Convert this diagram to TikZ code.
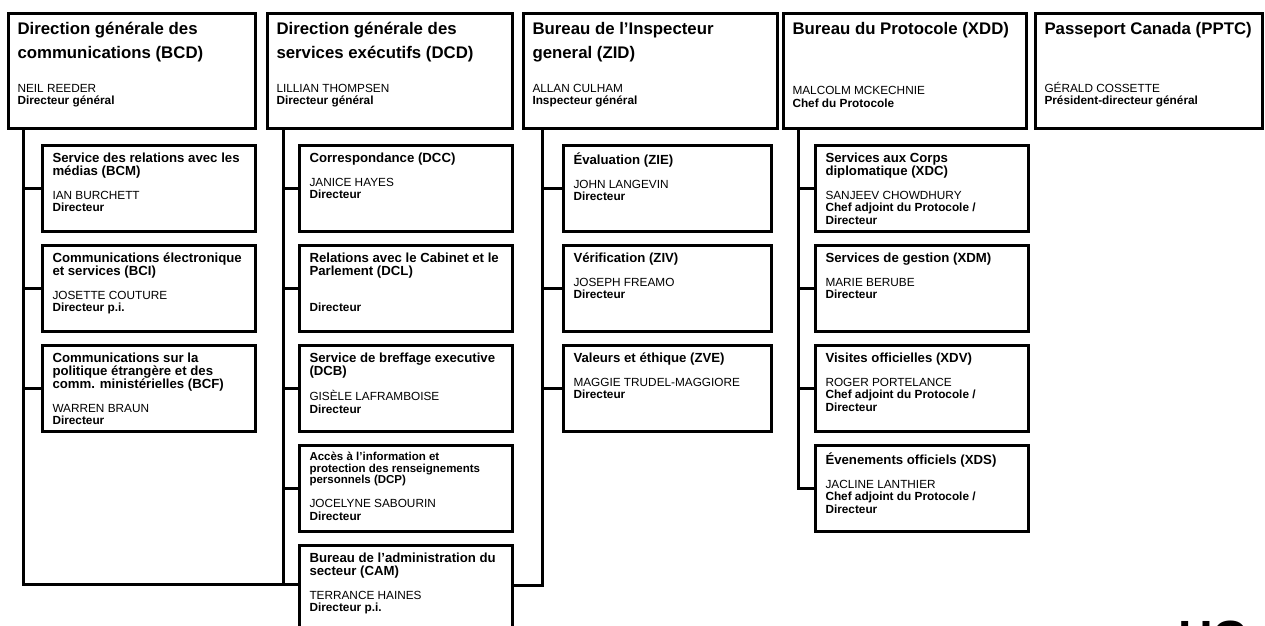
\documentclass[tikz,border=0pt]{standalone}
\usepackage{fontspec}
\setmainfont{Liberation Sans}
\usetikzlibrary{positioning}
\tikzset{
    orgchart/.style={x=1bp, y=-1bp, line width=3bp, node distance=11bp},
    dept/.style={draw, line width=3bp, anchor=north west, inner xsep=9bp, inner ysep=0pt},
    sect/.style={draw, line width=3bp, inner xsep=10bp, inner ysep=0pt},
}
% heading box: text width, title, name, role
\newcommand{\depttext}[4]{\parbox[c][115bp][s]{#1}{\raggedright
  \vspace*{9bp}\fontsize{16.8bp}{23.5bp}\selectfont\bfseries #2\par\vfill
  \fontsize{11.8bp}{12.5bp}\selectfont\leavevmode{\mdseries #3}\\ #4\par\vspace*{21bp}}}
% unit box: [title size] text width, title, name, role
\newcommand{\secttext}[5][13.2bp]{\parbox[c][86bp][t]{#2}{\raggedright
  \vspace*{7bp}\fontsize{#1}{#1}\selectfont\bfseries #3\par\vspace{11.5bp}
  \fontsize{11.8bp}{12.5bp}\selectfont\leavevmode{\mdseries #4}\\ #5\par}}

\begin{document}
\begin{tikzpicture}[orgchart]
    \useasboundingbox (0,0) rectangle (1265,626);

    % directions
    \node[dept] (bcd)  at (7,12)    {\depttext{229bp}{Direction générale des\\communications (BCD)}{NEIL REEDER}{Directeur général}};
    \node[dept] (dcd)  at (266,12)  {\depttext{227bp}{Direction générale des\\services exécutifs (DCD)}{LILLIAN THOMPSEN}{Directeur général}};
    \node[dept] (zid)  at (522,12)  {\depttext{236bp}{Bureau de l'Inspecteur\\general (ZID)}{ALLAN CULHAM}{Inspecteur général}};
    \node[dept] (xdd)  at (782,12)  {\depttext{225bp}{Bureau du Protocole (XDD)}{MALCOLM MCKECHNIE}{Chef du Protocole}};
    \node[dept] (pptc) at (1034,12) {\depttext{209bp}{Passeport Canada (PPTC)}{GÉRALD COSSETTE}{Président-directeur général}};

    % BCD units
    \node[sect, below right=14bp and 34bp of bcd.south west] (bcm) {\secttext{193bp}{Service des relations avec les\\médias (BCM)}{IAN BURCHETT}{Directeur}};
    \node[sect, below=of bcm] (bci) {\secttext{193bp}{Communications électronique\\et services (BCI)}{JOSETTE COUTURE}{Directeur p.i.}};
    \node[sect, below=of bci] (bcf) {\secttext{193bp}{Communications sur la\\politique étrangère et des\\comm. ministérielles (BCF)}{WARREN BRAUN}{Directeur}};

    % DCD units
    \node[sect, below right=14bp and 32bp of dcd.south west] (dcc) {\secttext{193bp}{Correspondance (DCC)}{JANICE HAYES}{Directeur}};
    \node[sect, below=of dcc] (dcl) {\secttext{193bp}{Relations avec le Cabinet et le\\Parlement (DCL)}{}{Directeur}};
    \node[sect, below=of dcl] (dcb) {\secttext{193bp}{Service de breffage executive\\(DCB)}{GISÈLE LAFRAMBOISE}{Directeur}};
    \node[sect, below=of dcb] (dcp) {\secttext[11.5bp]{193bp}{Accès à l'information et\\protection des renseignements\\personnels (DCP)}{JOCELYNE SABOURIN}{Directeur}};
    \node[sect, below=of dcp] (cam) {\secttext{193bp}{Bureau de l'administration du\\secteur (CAM)}{TERRANCE HAINES}{Directeur p.i.}};

    % ZID units
    \node[sect, below right=14bp and 40bp of zid.south west] (zie) {\secttext{188bp}{Évaluation (ZIE)}{JOHN LANGEVIN}{Directeur}};
    \node[sect, below=of zie] (ziv) {\secttext{188bp}{Vérification (ZIV)}{JOSEPH FREAMO}{Directeur}};
    \node[sect, below=of ziv] (zve) {\secttext{188bp}{Valeurs et éthique (ZVE)}{MAGGIE TRUDEL-MAGGIORE}{Directeur}};

    % XDD units
    \node[sect, below right=14bp and 32bp of xdd.south west] (xdc) {\secttext{193bp}{Services aux Corps\\diplomatique (XDC)}{SANJEEV CHOWDHURY}{Chef adjoint du Protocole /\\Directeur}};
    \node[sect, below=of xdc] (xdm) {\secttext{193bp}{Services de gestion (XDM)}{MARIE BERUBE}{Directeur}};
    \node[sect, below=of xdm] (xdv) {\secttext{193bp}{Visites officielles (XDV)}{ROGER PORTELANCE}{Chef adjoint du Protocole /\\Directeur}};
    \node[sect, below=of xdv] (xds) {\secttext{193bp}{Évenements officiels (XDS)}{JACLINE LANTHIER}{Chef adjoint du Protocole /\\Directeur}};

    \node[anchor=north west, inner sep=0pt, font=\fontsize{48bp}{48bp}\selectfont\bfseries] (hc) at (1176.5,619) {HC};

    % reporting lines
    \coordinate (bcdbus) at ([xshift=16bp]bcd.south west);
    \coordinate (dcdbus) at ([xshift=17.5bp]dcd.south west);
    \coordinate (zidbus) at ([xshift=20.5bp]zid.south west);
    \coordinate (xddbus) at ([xshift=16.5bp]xdd.south west);
    \coordinate (camin)  at ([yshift=-40bp]cam.north west);
    \coordinate (camout) at ([yshift=-41bp]cam.north east);

    \draw (bcdbus) |- (camin);
    \draw (dcdbus) -- (dcdbus |- camin);
    \draw (zidbus) |- (camout);
    \draw (xddbus) |- (xds.west);
    \foreach \u in {bcm,bci,bcf}
        \draw (bcdbus |- \u.west) -- (\u.west);
    \foreach \u in {dcc,dcl,dcb,dcp}
        \draw (dcdbus |- \u.west) -- (\u.west);
    \foreach \u in {zie,ziv,zve}
        \draw (zidbus |- \u.west) -- (\u.west);
    \foreach \u in {xdc,xdm,xdv}
        \draw (xddbus |- \u.west) -- (\u.west);
\end{tikzpicture}
\end{document}
